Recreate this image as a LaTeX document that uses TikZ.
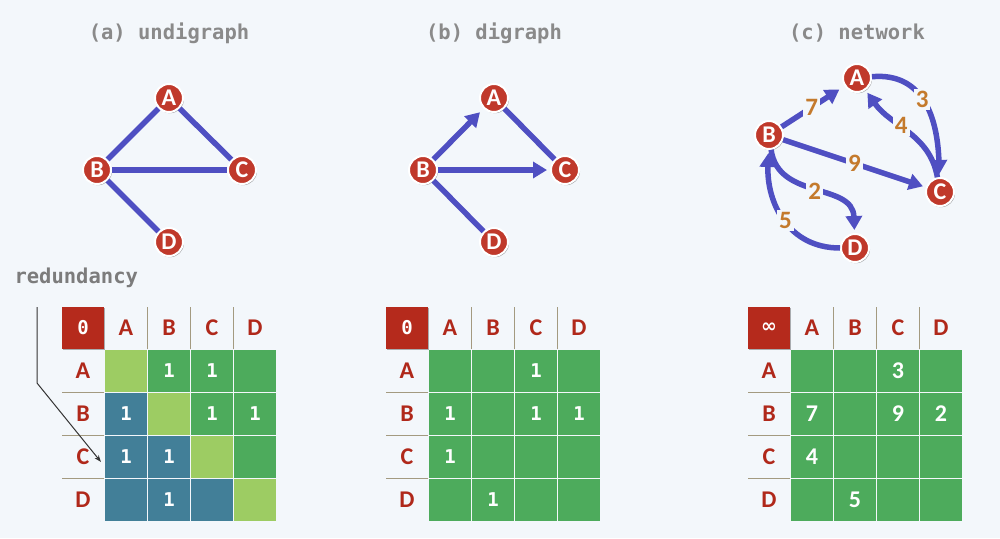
\documentclass[tikz,border=0pt]{standalone}
\usepackage{fontspec}
\usetikzlibrary{arrows.meta,shadows}
\newfontfamily\monof{DejaVu Sans Mono}
\newfontfamily\carl{Carlito}
\newfontfamily\dejav{DejaVu Sans}
\definecolor{bg}{HTML}{F3F7FB}
\definecolor{nodered}{HTML}{C0392B}
\definecolor{edgeblue}{HTML}{4F4FC2}
\definecolor{lgreen}{HTML}{9DCC63}
\definecolor{mgreen}{HTML}{4DAB5C}
\definecolor{cteal}{HTML}{427F98}
\definecolor{hdrred}{HTML}{B52A1C}
\definecolor{lblred}{HTML}{B0281A}
\definecolor{septan}{HTML}{A39A80}
\definecolor{titlegray}{HTML}{8A8A8A}
\definecolor{wtorange}{HTML}{C47A2C}
\tikzset{
  vert/.style={circle, fill=nodered, draw=white, line width=2pt, minimum size=28pt,
    inner sep=0pt, text=white, font=\carl\bfseries\fontsize{24}{24}\selectfont,
    drop shadow={shadow xshift=1pt, shadow yshift=-1.2pt, opacity=0.35, fill=black}},
  edge/.style={draw=edgeblue, line width=5.5pt},
  arr/.style={edge, -{Triangle[length=14pt,width=16pt]}, shorten >=3pt},
  wlabel/.style={fill=bg, inner sep=2pt, text=wtorange,
    font=\carl\bfseries\fontsize{25}{25}\selectfont},
  title/.style={text=titlegray, font=\monof\bfseries\fontsize{20.5}{20.5}\selectfont},
  hdrbox/.style={fill=hdrred, minimum size=42pt, inner sep=0pt, text=white,
    drop shadow={shadow xshift=1pt, shadow yshift=-1pt, opacity=0.3, fill=black}},
  hdr/.style={text=lblred, font=\carl\bfseries\fontsize{24}{24}\selectfont},
  cell/.style={minimum size=41.5pt, inner sep=0pt, text=white},
  sep/.style={draw=septan, line width=1.5pt},
  pointer/.style={draw=black!80, line width=1pt, -{Stealth[length=7pt,width=5pt]}},
}
\begin{document}
\begin{tikzpicture}[x=1pt,y=1pt]
\fill[bg] (0,0) rectangle (1000,-538);
\useasboundingbox (0,0) rectangle (1000,-538);

% titles
\node[title] (ta) at (169,-33) {(a) undigraph};
\node[title] (tb) at (494,-33) {(b) digraph};
\node[title] (tc) at (857,-33) {(c) network};

% graph (a)
\node[vert] (aA) at (169,-98) {A};
\node[vert] (aB) at (97,-170) {B};
\node[vert] (aC) at (242,-170) {C};
\node[vert] (aD) at (169,-242) {D};
\draw[edge] (aA) -- (aB);
\draw[edge] (aA) -- (aC);
\draw[edge] (aB) -- (aC);
\draw[edge] (aB) -- (aD);

% graph (b)
\node[vert] (bA) at (494,-98) {A};
\node[vert] (bB) at (423,-170) {B};
\node[vert] (bC) at (565,-170) {C};
\node[vert] (bD) at (494,-242) {D};
\draw[arr, shorten >=5pt] (bB) -- (bA);
\draw[edge] (bA) -- (bC);
\draw[arr] (bB) -- (bC);
\draw[edge] (bB) -- (bD);

% graph (c)
\node[vert] (cA) at (857,-78) {A};
\node[vert] (cB) at (769,-135) {B};
\node[vert] (cC) at (940,-192) {C};
\node[vert] (cD) at (855,-248) {D};
\draw[arr, shorten >=6pt] (cB) -- node[wlabel, pos=0.48] {7} (cA);
\draw[arr] (cB) -- node[wlabel] {9} (cC);
\draw[arr] (cA) to[out=5,in=92,looseness=1.15] node[wlabel, pos=0.45] {3} (cC);
\draw[arr] (cC) to[out=100,in=-55] node[wlabel, pos=0.58] {4} (cA);
\draw[arr] (cB) to[out=-82,in=92,looseness=1.1] node[wlabel, pos=0.5] {2} (cD);
\draw[arr] (cD) to[out=180,in=-92,looseness=1.1] node[wlabel, pos=0.48] {5} (cB);

% matrices
\foreach \ox/\m in {0/a,324/b,686/c}{
  \foreach \l [count=\j from 0] in {A,B,C,D}{
    \node[hdr] (\m-c\l) at ({126+43*\j+\ox},-328) {\l};
    \node[hdr] (\m-r\l) at ({83+\ox},{-371-43*\j}) {\l};
  }
  \foreach \k in {0,1,2}{
    \draw[sep] ({147.5+43*\k+\ox},-307) -- ({147.5+43*\k+\ox},-349);
    \draw[sep] ({62+\ox},{-392.5-43*\k}) -- ({104+\ox},{-392.5-43*\k});
  }
}
\node[hdrbox, font=\monof\bfseries\fontsize{19}{19}\selectfont] (a-hd) at (83,-328) {0};
\node[hdrbox, font=\monof\bfseries\fontsize{19}{19}\selectfont] (b-hd) at (407,-328) {0};
\node[hdrbox, font=\dejav\bfseries\fontsize{19}{19}\selectfont] (c-hd) at (769,-328) {∞};

% matrix (a)
\foreach \i/\j/\c/\v in {0/0/lgreen/,0/1/mgreen/1,0/2/mgreen/1,0/3/mgreen/,
  1/0/cteal/1,1/1/lgreen/,1/2/mgreen/1,1/3/mgreen/1,
  2/0/cteal/1,2/1/cteal/1,2/2/lgreen/,2/3/mgreen/,
  3/0/cteal/,3/1/cteal/1,3/2/cteal/,3/3/lgreen/}{
  \node[cell, fill=\c, font=\monof\bfseries\fontsize{19}{19}\selectfont] (a-\i\j)
    at ({126+43*\j},{-371-43*\i}) {\v};
}
% matrix (b)
\foreach \i/\j/\v in {0/0/,0/1/,0/2/1,0/3/,
  1/0/1,1/1/,1/2/1,1/3/1,
  2/0/1,2/1/,2/2/,2/3/,
  3/0/,3/1/1,3/2/,3/3/}{
  \node[cell, fill=mgreen, font=\monof\bfseries\fontsize{19}{19}\selectfont] (b-\i\j)
    at ({450+43*\j},{-371-43*\i}) {\v};
}
% matrix (c)
\foreach \i/\j/\v in {0/0/,0/1/,0/2/3,0/3/,
  1/0/7,1/1/,1/2/9,1/3/2,
  2/0/4,2/1/,2/2/,2/3/,
  3/0/,3/1/5,3/2/,3/3/}{
  \node[cell, fill=mgreen, font=\carl\bfseries\fontsize{24}{24}\selectfont] (c-\i\j)
    at ({812+43*\j},{-371-43*\i}) {\v};
}

% redundancy
\node[title, anchor=west, text=titlegray!90!black] (red) at (11,-278) {redundancy};
\coordinate (r1) at (37,-307);
\coordinate (r2) at (37,-383);
\coordinate (r3) at (101,-462);
\draw[pointer] (r1) -- (r2) -- (r3);
\end{tikzpicture}
\end{document}
